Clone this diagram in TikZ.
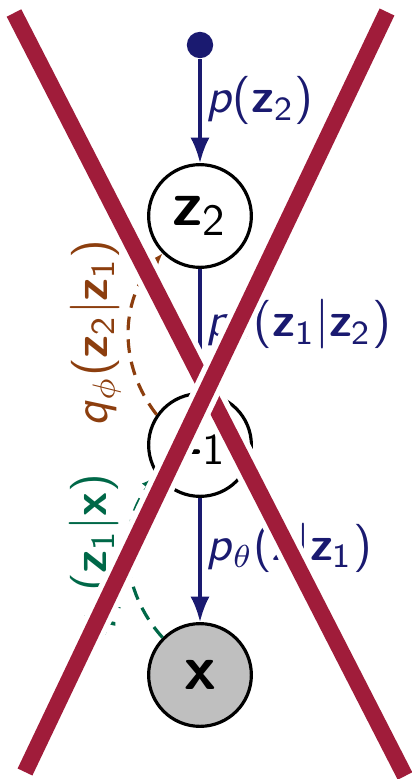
\documentclass[tikz,border=0pt]{standalone}
\usetikzlibrary{arrows.meta}

\definecolor{genblue}{RGB}{26,26,112}
\definecolor{encbrown}{RGB}{140,62,14}
\definecolor{encgreen}{RGB}{0,104,72}
\definecolor{crossred}{RGB}{160,28,58}

% variables in sans serif
\newcommand{\zvar}[1]{\textbf{z}\textsubscript{#1}}
\newcommand{\xvar}{\textbf{x}}
\newcommand{\pdist}{\textit{p}}
\newcommand{\qdist}{\textit{q}}

\tikzset{
  >={Latex[length=5.6pt,width=4.2pt]},   % default arrow tip
  every node/.style={font=\sffamily\fontsize{10.6}{12}\selectfont},
  latent/.style={circle, draw, line width=0.7pt, minimum size=22.6pt, inner sep=0pt, font=\sffamily\fontsize{14}{16}\selectfont},
  observed/.style={latent, fill=black!25},
  gen/.style={->, genblue, line width=0.7pt},
  enc/.style={-{Latex[length=3.4pt,width=3pt]}, dashed, dash pattern=on 3pt off 2pt, line width=0.7pt}
}

\begin{document}
\begin{tikzpicture}[x=0.22pt, y=-0.22pt]
\useasboundingbox (0,0) rectangle (412,779);

%==================== nodes ====================
\node[circle, fill=genblue, minimum size=5.8pt, inner sep=0pt] (top) at (200,45) {};
\node[latent] (z2) at (200,216) {\zvar{2}};
\node[latent] (z1) at (200,445) {\zvar{1}};
\node[observed] (x) at (200,675) {\xvar};

%==================== generative model ====================
\draw[gen] (top) -- (z2) node[right, pos=0.4, inner sep=1pt] {\pdist(\zvar{2})};
\draw[gen] (z2) -- (z1) node[right, pos=0.45, inner sep=1pt] {\pdist$_\theta$(\zvar{1}$|$\zvar{2})};
\draw[gen] (z1) -- (x) node[right, pos=0.4, inner sep=1pt] {\pdist$_\theta$(\xvar$|$\zvar{1})};

%==================== inference model ====================
\draw[enc, encbrown] (z1.145) to[bend left=40]
    node[midway, anchor=south, rotate=90, inner sep=1.5pt] {\qdist$_\phi$(\zvar{2}$|$\zvar{1})} (z2.225);
\draw[enc, encgreen] (x.135) to[bend left=40]
    node[midway, anchor=south, rotate=90, inner sep=1.5pt] {\qdist$_\phi$(\zvar{1}$|$\xvar)} (z1.215);

%==================== cross ====================
\coordinate (tl) at (14,13);
\coordinate (br) at (405,776);
\coordinate (tr) at (387,12);
\coordinate (bl) at (25,772);
\foreach \a/\b in {tl/br, tr/bl} {
  \draw[white, line width=6pt] (\a) -- (\b);
  \draw[crossred, line width=3.6pt] (\a) -- (\b);
}

\end{tikzpicture}
\end{document}
